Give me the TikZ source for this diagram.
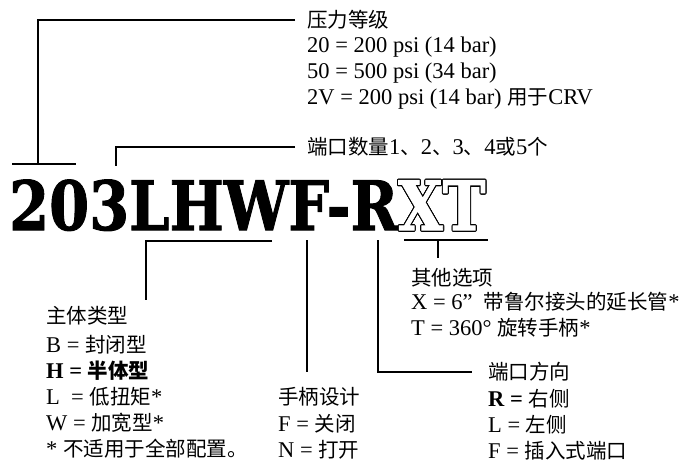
\documentclass[tikz,border=0pt]{standalone}
\usepackage{fontspec}
\setmainfont{Liberation Serif}
\newfontfamily\cjk{Noto Sans CJK SC}
\newfontfamily\codefont{DejaVu Serif}[BoldFeatures={FakeBold=1.5}]
\usepackage{contour}
\contourlength{1.2pt}
\usetikzlibrary{positioning}
\tikzset{
	keytitle/.style={anchor=west,inner sep=0pt,font=\fontsize{22.5}{26}\selectfont}
}
\tikzset{
	keylist/.style={anchor=west,inner sep=0pt,align=left,font=\fontsize{22.5}{26}\selectfont}
}
\newcommand{\zh}[1]{{\cjk\fontsize{20.5}{26}\selectfont #1}}

\begin{document}
\begin{tikzpicture}[x=1pt,y=-1pt]
      \tikzset{bracket/.style={line width=2.4pt}}
      \useasboundingbox (0,0) rectangle (691,463);
      % model code
      \node[anchor=base west,inner sep=0pt] (code) at (9,230)
        {\scalebox{0.845}[1]{\codefont\bfseries\fontsize{68}{68}\selectfont 203LHWF-R\contour{black}{\color{white}XT}}};
      % key texts above
      \node[keytitle] (press) at (307,20) {\zh{压力等级}};
      \node[keylist] (pressopts) at (307,73.5)
        {20 = 200 psi (14 bar)\\50 = 500 psi (34 bar)\\2V = 200 psi (14 bar) \zh{用于}CRV};
      \node[keytitle] (ports) at (307,147)
        {\zh{端口数量}1\zh{、}2\zh{、}3\zh{、}4\zh{或}5\zh{个}};
      % key texts below
      \node[keytitle] (body) at (46,316) {\zh{主体类型}};
      \node[keylist] (bodyopts) at (46,396.5)
        {B = \zh{封闭型}\\\textbf{H = \zh{半体型}}\\L\ \ = \zh{低扭矩}*\\W = \zh{加宽型}*\\* \zh{不适用于全部配置。}};
      \node[keytitle] (handle) at (278,397) {\zh{手柄设计}};
      \node[keylist] (handleopts) at (278,436.5)
        {F = \zh{关闭}\\N = \zh{打开}};
      \node[keytitle] (other) at (411,278) {\zh{其他选项}};
      \node[keylist] (otheropts) at (411,315)
        {X = 6” \ \zh{带鲁尔接头的延长管}*\\T = 360° \zh{旋转手柄}*};
      \node[keytitle] (dir) at (488,372) {\zh{端口方向}};
      \node[keylist] (diropts) at (488,424.5)
        {\textbf{R =} \zh{右侧}\\L = \zh{左侧}\\F = \zh{插入式端口}};
      % connectors
      \coordinate (pressbar) at (38,164);
      \coordinate (portstop) at (116,166);
      \coordinate (bodyend) at (146,300);
      \coordinate (handletop) at (307,240);
      \coordinate (handleend) at (307,372);
      \coordinate (dirtop) at (378,240);
      \coordinate (othertop) at (438,258);
      \draw[bracket] ([xshift=-12pt]press.west) -| (pressbar);
      \draw[bracket] (12,164) -- (76,164);
      \draw[bracket] ([xshift=-12pt]ports.west) -| (portstop);
      \draw[bracket] (272,241) -- (146,241) -- (bodyend);
      \draw[bracket] (handletop) -- (handleend);
      \draw[bracket] (dirtop) |- ([xshift=-16pt]dir.west);
      \draw[bracket] (404,240) -- (488,240);
      \draw[bracket] (438,240) -- (othertop);
\end{tikzpicture}
\end{document}
